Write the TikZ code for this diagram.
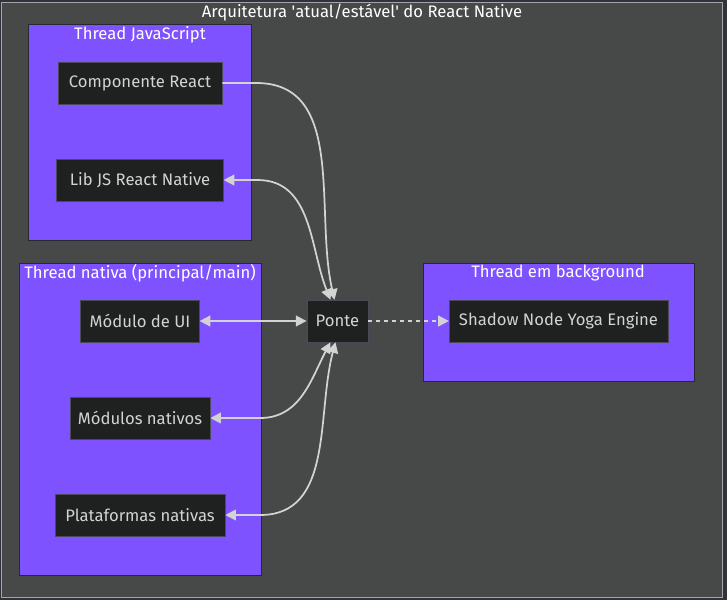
\documentclass[tikz,border=0pt]{standalone}
\usepackage{fontspec}
\setmainfont{Fira Sans}
\usetikzlibrary{positioning,arrows.meta,calc}
\pgfdeclarelayer{bg}
\pgfsetlayers{bg,main}
\definecolor{canvas}{HTML}{474948}
\definecolor{outerbg}{HTML}{30333B}
\definecolor{lane}{HTML}{7F52FF}
\definecolor{boxfill}{HTML}{1F2020}
\definecolor{boxline}{HTML}{4A4A5A}
\definecolor{wire}{HTML}{D3D3D3}
\tikzset{
  part/.style={draw=boxline,fill=boxfill,text=wire,minimum height=31.5pt,
    inner xsep=4pt,font=\fontsize{12.5}{14}\selectfont},
  lanebox/.style={draw=outerbg!80!black,fill=lane},
  lanetitle/.style={text=white,font=\fontsize{12.5}{14}\selectfont},
  link/.style={wire,line width=1.3pt,-{Triangle[length=8pt,width=8pt]}},
  twolink/.style={wire,line width=1.3pt,{Triangle[length=8pt,width=8pt]}-{Triangle[length=8pt,width=8pt]}}
}
\begin{document}
\begin{tikzpicture}[x=0.75pt,y=-0.75pt]
  \useasboundingbox (0,0) rectangle (727,600);
  \fill[outerbg] (0,0) rectangle (727,600);
  \draw[fill=canvas,draw=gray!70] (1,2.5) rectangle (722,597);
  \node[text=white,font=\fontsize{12.5}{14}\selectfont] (title) at (362,13)
    {Arquitetura \textquotesingle atual/estável\textquotesingle{} do React Native};

  % lanes
  \draw[lanebox] (28,24) rectangle (251,240);
  \node[lanetitle] (jstitle) at (140,35) {Thread JavaScript};
  \draw[lanebox] (19,263) rectangle (261,575);
  \node[lanetitle] (nattitle) at (140,273) {Thread nativa (principal/main)};
  \draw[lanebox] (423,263) rectangle (694,381);
  \node[lanetitle] (bgtitle) at (558,273) {Thread em background};

  % nodes
  \node[part,minimum width=123pt] (comp) at (140,83) {Componente React};
  \node[part,minimum width=125pt] (libjs) at (140,180) {Lib JS React Native};
  \node[part,minimum width=89pt] (uimod) at (140,321) {Módulo de UI};
  \node[part,minimum width=46pt] (ponte) at (337.5,321) {Ponte};
  \node[part,minimum width=105pt] (natmods) at (140,418) {Módulos nativos};
  \node[part,minimum width=127.5pt] (plat) at (140,515) {Plataformas nativas};
  \node[part,minimum width=164pt] (shadow) at (558.5,321) {Shadow Node Yoga Engine};

  % connectors
  \draw[link] (comp.east) -- ++(34,0) to[out=0,in=103] ($(ponte.north)+(-3,0)$);
  \draw[twolink] (libjs.east) -- ++(34,0) to[out=0,in=112] ($(ponte.north)+(-7,0)$);
  \draw[twolink] (uimod.east) -- (ponte.west);
  \draw[twolink] (natmods.east) -- ++(50,0) to[out=0,in=-118] ($(ponte.south)+(-7,0)$);
  \draw[twolink] (plat.east) -- ++(35,0) to[out=0,in=-105] ($(ponte.south)+(-2,0)$);
  \draw[link,dash pattern=on 3pt off 3pt] (ponte.east) -- (shadow.west);
\end{tikzpicture}
\end{document}
